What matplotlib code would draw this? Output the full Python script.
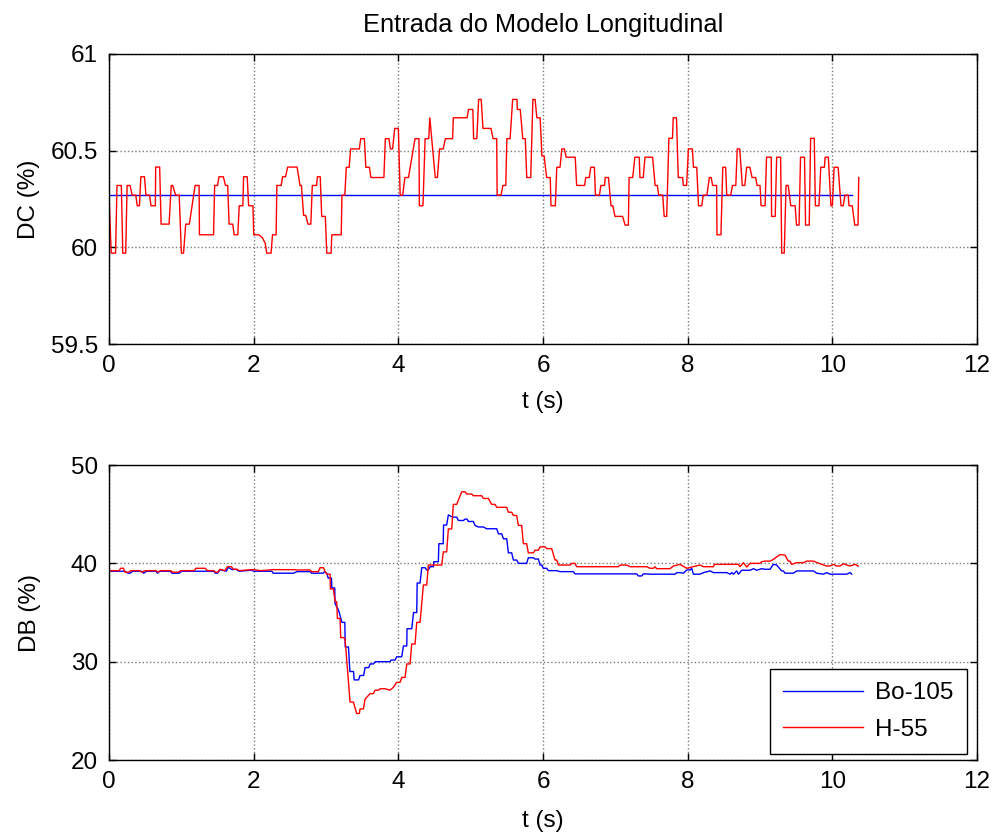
import matplotlib
matplotlib.use("Agg")
import matplotlib.pyplot as plt

plt.rcParams['font.family'] = ['Liberation Sans', 'DejaVu Sans']

# ---------------- top panel data (DC %) ----------------
# H-55 : piecewise-constant levels (segment start, segment end, level)
dc_seg_t0 = [0.0, 0.03, 0.11, 0.19, 0.25, 0.32, 0.39, 0.44, 0.51, 0.58, 0.645, 0.72, 0.86, 0.92, 1.00, 1.06,
             1.19, 1.25, 1.46, 1.52, 1.61, 1.66, 1.73, 1.80, 1.86, 1.93, 2.00, 2.12, 2.16, 2.18, 2.26, 2.32,
             2.40, 2.47, 2.64, 2.69, 2.75, 2.81, 2.88, 2.94, 3.01, 3.08, 3.22, 3.28, 3.34, 3.48, 3.55, 3.62,
             3.82, 3.89, 3.95, 4.025, 4.09, 4.23, 4.29, 4.37, 4.435, 4.51, 4.57, 4.65, 4.76, 4.97, 5.04, 5.11,
             5.17, 5.31, 5.365, 5.445, 5.50, 5.58, 5.645, 5.72, 5.775, 5.86, 5.915, 5.985, 6.05, 6.11, 6.19,
             6.26, 6.32, 6.465, 6.59, 6.66, 6.725, 6.80, 6.86, 6.94, 6.995, 7.135, 7.19, 7.27, 7.34, 7.41,
             7.55, 7.60, 7.675, 7.74, 7.80, 7.87, 7.94, 8.01, 8.08, 8.15, 8.215, 8.30, 8.345, 8.405, 8.485,
             8.54, 8.62, 8.685, 8.755, 8.815, 8.89, 8.96, 9.015, 9.09, 9.16, 9.23, 9.30, 9.36, 9.425, 9.505,
             9.56, 9.63, 9.70, 9.765, 9.84, 9.90, 9.98, 10.025, 10.12, 10.175, 10.23, 10.31, 10.365]
dc_seg_t1 = [0.0, 0.09, 0.17, 0.23, 0.29, 0.37, 0.42, 0.49, 0.56, 0.64, 0.70, 0.83, 0.88, 0.97, 1.03, 1.11,
             1.245, 1.445, 1.50, 1.58, 1.64, 1.71, 1.78, 1.85, 1.91, 1.99, 2.07, 2.12, 2.16, 2.24, 2.31, 2.38,
             2.44, 2.60, 2.66, 2.72, 2.79, 2.87, 2.92, 2.99, 3.07, 3.21, 3.26, 3.32, 3.46, 3.53, 3.60, 3.80,
             3.87, 3.92, 4.00, 4.06, 4.14, 4.285, 4.34, 4.42, 4.435, 4.54, 4.62, 4.75, 4.95, 5.03, 5.085, 5.145,
             5.28, 5.36, 5.42, 5.485, 5.545, 5.64, 5.685, 5.755, 5.83, 5.89, 5.96, 6.015, 6.10, 6.17, 6.235,
             6.295, 6.445, 6.575, 6.64, 6.71, 6.78, 6.85, 6.905, 6.965, 7.10, 7.18, 7.24, 7.33, 7.385, 7.515,
             7.58, 7.655, 7.71, 7.79, 7.845, 7.93, 7.985, 8.065, 8.125, 8.195, 8.265, 8.325, 8.40, 8.46, 8.525,
             8.595, 8.665, 8.72, 8.79, 8.86, 8.94, 9.0, 9.07, 9.155, 9.21, 9.285, 9.335, 9.39, 9.485, 9.54,
             9.615, 9.68, 9.75, 9.815, 9.89, 9.945, 10.0, 10.08, 10.15, 10.22, 10.275, 10.355, 10.365]
dc_seg_val = [60.27, 59.97, 60.32, 59.97, 60.32, 60.27, 60.215, 60.365, 60.27, 60.215, 60.415, 60.12, 60.32,
              60.27, 59.97, 60.12, 60.32, 60.065, 60.32, 60.365, 60.32, 60.12, 60.065, 60.215, 60.365, 60.215,
              60.065, 60.05, 60.02, 59.97, 60.065, 60.32, 60.365, 60.415, 60.32, 60.165, 60.12, 60.32, 60.365,
              60.16, 59.97, 60.065, 60.27, 60.414, 60.509, 60.562, 60.414, 60.361, 60.562, 60.509, 60.615,
              60.27, 60.361, 60.562, 60.215, 60.562, 60.67, 60.361, 60.509, 60.562, 60.67, 60.713, 60.562,
              60.765, 60.615, 60.562, 60.27, 60.32, 60.562, 60.765, 60.713, 60.562, 60.361, 60.765, 60.67,
              60.473, 60.361, 60.215, 60.414, 60.509, 60.466, 60.32, 60.361, 60.414, 60.27, 60.32, 60.361,
              60.215, 60.16, 60.115, 60.361, 60.466, 60.361, 60.466, 60.32, 60.27, 60.16, 60.564, 60.67,
              60.361, 60.32, 60.509, 60.414, 60.215, 60.27, 60.361, 60.32, 60.065, 60.414, 60.27, 60.32,
              60.509, 60.32, 60.414, 60.361, 60.32, 60.215, 60.466, 60.16, 60.466, 59.97, 60.32, 60.215,
              60.115, 60.466, 60.115, 60.564, 60.215, 60.414, 60.466, 60.215, 60.414, 60.215, 60.27, 60.215,
              60.115, 60.361]
# Bo-105 : constant
dc_bo_t = [0.0, 10.275]
dc_bo_v = [60.27, 60.27]

# ---------------- bottom panel data (DB %) ----------------
db_bo_t = [0.0, 0.22, 0.26, 0.29, 0.33, 0.45, 0.48, 0.52, 0.65, 0.67, 0.70, 0.85, 0.87, 0.97, 1.0, 1.45, 1.47,
           1.50, 1.535, 1.62, 1.65, 1.70, 1.75, 1.80, 1.97, 2.0, 2.25, 2.27, 2.55, 2.6, 2.78, 2.80, 2.96, 2.98,
           3.01, 3.03, 3.075, 3.08, 3.12, 3.125, 3.17, 3.19, 3.22, 3.26, 3.265, 3.31, 3.33, 3.38, 3.39, 3.45,
           3.47, 3.52, 3.54, 3.59, 3.61, 3.655, 3.68, 3.885, 3.9, 3.954, 3.977, 4.047, 4.07, 4.116, 4.12,
           4.185, 4.21, 4.254, 4.26, 4.30, 4.323, 4.369, 4.392, 4.415, 4.438, 4.484, 4.49, 4.553, 4.56, 4.62,
           4.625, 4.668, 4.691, 4.75, 4.807, 4.83, 4.899, 4.922, 4.95, 4.968, 5.037, 5.06, 5.106, 5.175,
           5.221, 5.36, 5.383, 5.429, 5.452, 5.498, 5.521, 5.567, 5.59, 5.636, 5.659, 5.774, 5.797, 5.867,
           5.89, 5.936, 5.959, 5.982, 6.005, 6.051, 6.074, 6.189, 6.235, 6.419, 6.442, 7.295, 7.318, 7.364,
           7.387, 7.433, 7.479, 7.826, 7.85, 7.895, 7.94, 7.987, 8.033, 8.056, 8.079, 8.171, 8.217, 8.31,
           8.356, 8.54, 8.586, 8.609, 8.632, 8.678, 8.701, 8.747, 8.862, 8.909, 8.955, 9.024, 9.07, 9.139,
           9.184, 9.23, 9.30, 9.323, 9.346, 9.461, 9.508, 9.738, 9.784, 9.876, 9.922, 9.968, 10.06, 10.199,
           10.245, 10.268]
db_bo_v = [39.2, 39.2, 39.0, 39.0, 39.2, 39.2, 39.0, 39.2, 39.2, 39.0, 39.2, 39.2, 39.0, 39.0, 39.2, 39.2, 39.0,
           39.0, 39.36, 39.2, 39.6, 39.36, 39.4, 39.2, 39.3, 39.2, 39.2, 39.0, 39.0, 39.16, 39.16, 39.0, 39.0,
           39.16, 39.0, 38.5, 38.5, 37.5, 37.5, 35.9, 35.3, 34.8, 34.0, 34.0, 31.5, 31.5, 29.0, 29.0, 28.15,
           28.15, 28.6, 28.6, 29.4, 29.4, 29.77, 29.77, 30.0, 30.0, 30.17, 30.17, 30.5, 30.5, 31.6, 31.6,
           33.35, 33.35, 35.0, 35.0, 38.0, 38.0, 39.56, 39.56, 39.33, 39.33, 39.66, 39.66, 40.17, 40.17, 42.0,
           42.0, 43.9, 43.9, 44.93, 44.7, 44.7, 44.36, 44.36, 44.5, 44.5, 44.26, 44.26, 43.86, 43.7, 43.7,
           43.52, 43.52, 43.0, 43.0, 42.5, 42.5, 41.07, 41.07, 40.34, 40.34, 40.0, 40.0, 40.57, 40.57, 40.44,
           40.44, 39.83, 39.83, 39.5, 39.5, 39.26, 39.26, 39.16, 39.16, 38.93, 38.93, 38.72, 38.72, 38.93,
           38.93, 38.9, 38.9, 39.06, 39.06, 39.0, 39.33, 39.33, 39.5, 38.9, 38.9, 39.06, 39.23, 39.06, 39.06,
           38.9, 39.06, 38.9, 39.23, 38.9, 39.3, 39.3, 39.46, 39.3, 39.46, 39.4, 39.4, 39.9, 39.83, 39.23,
           39.23, 39.0, 39.0, 39.23, 39.23, 39.0, 38.9, 39.06, 38.9, 38.9, 38.9, 39.06, 38.9]

db_h55_t = [0.0, 0.14, 0.16, 0.20, 0.22, 0.27, 0.30, 0.42, 0.45, 0.50, 0.65, 0.68, 0.71, 0.85, 0.88, 0.96,
            0.99, 1.18, 1.20, 1.33, 1.36, 1.45, 1.47, 1.50, 1.535, 1.60, 1.64, 1.69, 1.72, 1.77, 1.80, 1.97,
            2.0, 2.1, 2.27, 2.55, 2.6, 2.779, 2.80, 2.894, 2.917, 2.964, 2.987, 3.01, 3.056, 3.06, 3.102,
            3.125, 3.148, 3.157, 3.194, 3.203, 3.24, 3.263, 3.332, 3.378, 3.424, 3.461, 3.47, 3.517, 3.54,
            3.609, 3.655, 3.678, 3.724, 3.747, 3.816, 3.885, 3.931, 3.977, 4.023, 4.047, 4.093, 4.116, 4.162,
            4.185, 4.231, 4.254, 4.30, 4.346, 4.392, 4.415, 4.60, 4.622, 4.668, 4.691, 4.738, 4.76, 4.807,
            4.876, 4.922, 4.945, 5.014, 5.037, 5.152, 5.175, 5.244, 5.29, 5.336, 5.36, 5.498, 5.521, 5.567,
            5.59, 5.636, 5.659, 5.705, 5.728, 5.774, 5.797, 5.867, 5.89, 5.936, 5.959, 6.028, 6.051, 6.12,
            6.166, 6.189, 6.212, 6.373, 6.396, 6.442, 6.465, 7.042, 7.065, 7.157, 7.203, 7.433, 7.48, 7.526,
            7.549, 7.57, 7.756, 7.803, 7.895, 7.987, 8.079, 8.171, 8.22, 8.356, 8.37, 8.701, 8.724, 8.77,
            8.816, 8.862, 8.999, 9.024, 9.07, 9.139, 9.184, 9.277, 9.346, 9.39, 9.415, 9.438, 9.508, 9.60,
            9.646, 9.738, 9.83, 9.922, 9.968, 10.014, 10.06, 10.107, 10.153, 10.245, 10.314, 10.36]
db_h55_v = [39.26, 39.26, 39.5, 39.5, 39.1, 39.1, 39.26, 39.26, 39.1, 39.26, 39.26, 39.1, 39.26, 39.26, 39.1,
            39.1, 39.26, 39.26, 39.5, 39.5, 39.26, 39.26, 39.1, 39.1, 39.4, 39.26, 39.67, 39.67, 39.4, 39.4,
            39.26, 39.36, 39.36, 39.26, 39.36, 39.36, 39.33, 39.33, 39.16, 39.16, 39.56, 39.56, 39.16, 38.9,
            38.9, 37.4, 37.4, 36.1, 36.1, 34.4, 34.4, 32.45, 32.45, 32.35, 25.9, 25.9, 24.73, 24.73, 25.2,
            25.2, 26.2, 26.75, 26.75, 27.1, 27.1, 27.25, 27.25, 27.1, 27.4, 27.9, 27.9, 28.4, 28.4, 29.77,
            29.77, 31.8, 31.8, 34.0, 34.0, 37.8, 37.8, 39.83, 39.83, 41.17, 41.17, 43.5, 43.5, 46.0, 46.0,
            47.28, 47.28, 47.05, 47.05, 46.88, 46.88, 46.6, 46.6, 46.0, 46.0, 45.7, 45.7, 45.2, 45.2, 44.87,
            44.87, 43.86, 43.86, 42.0, 42.0, 41.07, 41.07, 41.34, 41.34, 41.68, 41.68, 41.5, 41.5, 40.34,
            40.34, 39.83, 39.83, 40.0, 40.0, 39.66, 39.66, 39.83, 39.83, 39.66, 39.66, 39.5, 39.5, 39.66,
            39.46, 39.46, 39.73, 39.9, 39.5, 39.66, 39.83, 39.66, 39.66, 39.9, 39.9, 39.66, 40.07, 39.63,
            40.0, 40.0, 40.17, 40.23, 40.23, 40.4, 40.9, 40.84, 40.23, 40.23, 39.9, 40.07, 40.07, 40.23,
            40.23, 39.96, 39.73, 39.73, 39.9, 39.73, 39.73, 39.96, 39.73, 39.9, 39.73]

title = "Entrada do Modelo Longitudinal"
xlabel = "t (s)"
ylabel_top = "DC (%)"
ylabel_bot = "DB (%)"
legend_labels = ["Bo-105", "H-55"]
xticks = [0, 2, 4, 6, 8, 10, 12]
yticks_top = [59.5, 60, 60.5, 61]
yticks_bot = [20, 30, 40, 50]

# build the H-55 DC polyline from its level segments
dc_h55_t, dc_h55_v = [], []
for a, b, v in zip(dc_seg_t0, dc_seg_t1, dc_seg_val):
    dc_h55_t += [a, b]
    dc_h55_v += [v, v]

FS = 17.5
fig = plt.figure(figsize=(9.94, 8.34), dpi=100)
ax1 = fig.add_axes([0.1097, 0.5875, 0.8732, 0.3478])
ax2 = fig.add_axes([0.1097, 0.0887, 0.8732, 0.3537])

def style(ax):
    ax.set_xlim(0, 12)
    ax.set_xticks(xticks)
    ax.grid(True, color='#7a7a7a', linestyle=':', linewidth=1.0)
    ax.tick_params(direction='in', top=True, right=True, labelsize=FS, length=5, width=1, pad=8)
    for s in ax.spines.values():
        s.set_linewidth(1.0)
    ax.set_xlabel(xlabel, fontsize=FS, labelpad=10)

ax1.plot(dc_bo_t, dc_bo_v, color='b', lw=1.0)
ax1.plot(dc_h55_t, dc_h55_v, color='r', lw=1.0)
style(ax1)
ax1.set_ylim(59.5, 61)
ax1.set_yticks(yticks_top)
ax1.set_yticklabels(["59.5", "60", "60.5", "61"])
ax1.set_ylabel(ylabel_top, fontsize=FS)
ax1.yaxis.set_label_coords(-0.080, 0.5)
ax1.set_title(title, fontsize=18.3, pad=16)

l1, = ax2.plot(db_bo_t, db_bo_v, color='b', lw=1.0)
l2, = ax2.plot(db_h55_t, db_h55_v, color='r', lw=1.0)
style(ax2)
ax2.xaxis.labelpad = 12
ax2.set_ylim(20, 50)
ax2.set_yticks(yticks_bot)
ax2.set_ylabel(ylabel_bot, fontsize=FS)
ax2.yaxis.set_label_coords(-0.078, 0.5)
leg = ax2.legend([l1, l2], legend_labels, loc='lower right', bbox_to_anchor=(0.9885, 0.02),
                 borderaxespad=0, fontsize=FS, fancybox=False, framealpha=1, edgecolor='k',
                 handlelength=3.3, handletextpad=0.5, borderpad=0.55, labelspacing=0.6)
leg.get_frame().set_linewidth(1.0)

fig.savefig("out.png", dpi=100)
